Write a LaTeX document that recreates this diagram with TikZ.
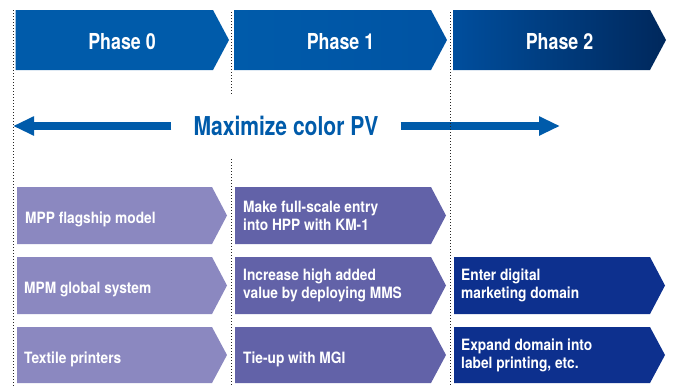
\documentclass[tikz,border=0pt]{standalone}
\usepackage{fontspec}
\setmainfont{TeX Gyre Heros}
\newfontfamily\hdfont[FakeStretch=0.81]{TeX Gyre Heros}
\newfontfamily\bxfont[FakeStretch=0.88]{TeX Gyre Heros}
\usetikzlibrary{arrows.meta}
\definecolor{phaseblue}{HTML}{005BAA}
\definecolor{phaseblueB}{HTML}{0053A3}
\definecolor{navyL}{HTML}{004E9D}
\definecolor{navyR}{HTML}{00285C}
\definecolor{colA}{HTML}{8B88C0}
\definecolor{colB}{HTML}{6262A8}
\definecolor{colC}{HTML}{0D308E}
\newcommand\chevshape[6]{\path[#1] (#2,#3) -- (#4,#3) -- (#5,{(#3+#6)/2}) -- (#4,#6) -- (#2,#6) -- cycle;}
\begin{document}
\begin{tikzpicture}[x=1pt,y=-1pt,
  phasetxt/.style={anchor=base,inner sep=0pt,text=white,font=\hdfont\bfseries\fontsize{22}{26}\selectfont},
  boxtxt/.style={inner sep=0pt,text=white,align=left,font=\bxfont\bfseries\fontsize{15.6}{18}\selectfont},
  dotline/.style={draw=black!85,line width=0.9pt,dash pattern=on 0.9pt off 2.1pt},
  bigarrow/.style={draw=phaseblue,line width=8pt,-{Triangle[length=21pt,width=18pt]}}]
\useasboundingbox (0,0) rectangle (674,386);
% phase headers
\chevshape{fill=phaseblue}{15.5}{10}{213}{229}{70}
\chevshape{left color=phaseblue,right color=phaseblueB}{234}{10}{431}{447}{70}
\chevshape{left color=navyL,right color=navyR}{453}{10}{650}{666}{70}
\node[phasetxt] (p0) at (122,49.3) {Phase 0};
\node[phasetxt] (p1) at (340.5,49.3) {Phase 1};
\node[phasetxt] (p2) at (559.5,49.3) {Phase 2};
% dotted line hidden behind the title
\draw[dotline] (231,12) -- (231,386);
\node[fill=white,inner sep=0pt,minimum width=229pt,minimum height=61pt,
      text=phaseblue,font=\hdfont\bfseries\fontsize{26}{30}\selectfont] (mx) at (286,126) {Maximize color PV};
\coordinate (lt) at (13,126);
\coordinate (rt) at (560,126);
\draw[bigarrow] (mx.west) -- (lt);
\draw[bigarrow] (mx.east) -- (rt);
\draw[dotline] (13,10) -- (13,386);
\draw[dotline] (450,12) -- (450,386);
% rows
\chevshape{fill=colA}{17}{187}{212}{227}{244}
\chevshape{fill=colA}{17}{257}{212}{227}{314}
\chevshape{fill=colA}{17}{327}{212}{227}{383}
\chevshape{fill=colB}{235}{187}{431}{446}{244}
\chevshape{fill=colB}{235}{257}{431}{446}{314}
\chevshape{fill=colB}{235}{327}{431}{446}{383}
\chevshape{fill=colC}{454}{257}{650}{665}{314}
\chevshape{fill=colC}{454}{327}{650}{665}{383}
\node[boxtxt,anchor=base west] (a1) at (25,223.3) {MPP flagship model};
\node[boxtxt,anchor=base west] (a2) at (24,293.3) {MPM global system};
\node[boxtxt,anchor=base west] (a3) at (24,363.3) {Textile printers};
\node[boxtxt,anchor=west] (b1) at (243,215.5) {Make full-scale entry\\into HPP with KM-1};
\node[boxtxt,anchor=west] (b2) at (243,285.5) {Increase high added\\value by deploying MMS};
\node[boxtxt,anchor=base west] (b3) at (243,363.3) {Tie-up with MGI};
\node[boxtxt,anchor=west] (c2) at (461,285.5) {Enter digital\\marketing domain};
\node[boxtxt,anchor=west] (c3) at (461,355.5) {Expand domain into\\label printing, etc.};
\end{tikzpicture}
\end{document}
